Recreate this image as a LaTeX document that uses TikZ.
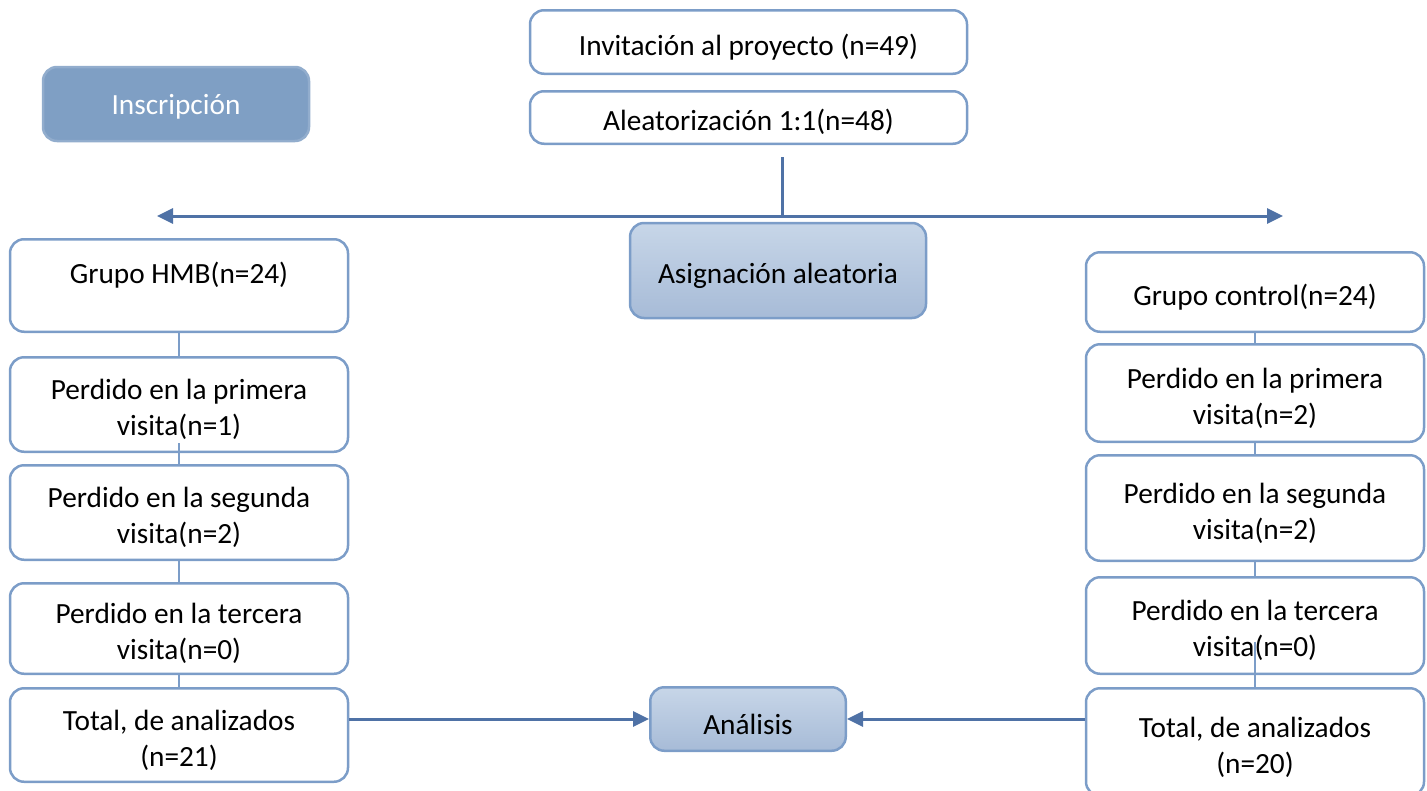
\documentclass[tikz,border=0pt]{standalone}
\usepackage{fontspec}
\setmainfont{Carlito}
\usepackage{tikz}
\usetikzlibrary{positioning}
\usetikzlibrary{arrows.meta}

\definecolor{boxline}{RGB}{124,157,200}
\definecolor{flowblue}{RGB}{79,114,166}
\definecolor{headfill}{RGB}{127,159,196}
\definecolor{softtop}{RGB}{199,214,232}
\definecolor{softbot}{RGB}{167,187,215}

\newcommand{\firstline}{\rule{0pt}{31pt}}

\tikzset{
  plainbox/.style={draw=boxline, line width=2.5pt, rounded corners=14pt, fill=white,
    align=center, inner sep=0pt, font=\fontsize{29.3pt}{36pt}\selectfont,
    execute at begin node=\firstline},
  headbox/.style={plainbox, draw=headfill!85!white, fill=headfill, text=white},
  softbox/.style={plainbox, draw=boxline, top color=softtop, bottom color=softbot},
  flowarrow/.style={draw=flowblue, line width=3pt, -{Triangle[length=16pt,width=15pt]}},
  flowline/.style={draw=flowblue, line width=3pt},
  thinlink/.style={draw=boxline, line width=1.2pt}
}

\begin{document}
\begin{tikzpicture}[x=1pt, y=-1pt]
\useasboundingbox (0,0) rectangle (1427,790);

% top of the chart
\node[headbox, minimum width=266pt, minimum height=74pt, text depth=11pt] (enrol) at (176,104) {Inscripción};
\node[plainbox, minimum width=437pt, minimum height=63.5pt] (invite) at (748.5,42) {Invitación al proyecto (n=49)};
\node[plainbox, minimum width=437pt, minimum height=52.5pt, below=15pt of invite] (alloc) {Aleatorización 1:1(n=48)};
\node[softbox, minimum width=296pt, minimum height=95pt] (assign) at (778,270.5) {Asignación aleatoria};

\coordinate (forktop) at (782,157);
\coordinate (fork) at (782,216);
\coordinate (leftend) at (157,216);
\coordinate (rightend) at (1283,216);

% HMB group
\node[plainbox, minimum width=338pt, minimum height=92.5pt, text depth=36pt] (hmb) at (179,285.5) {Grupo HMB(n=24)};
\node[plainbox, minimum width=338pt, minimum height=94.5pt, below=23pt of hmb] (lostAhmb) {\firstline Perdido en la primera\\visita(n=1)};
\node[plainbox, minimum width=338pt, minimum height=94.5pt, below=11pt of lostAhmb] (lostBhmb) {\firstline Perdido en la segunda\\visita(n=2)};
\node[plainbox, minimum width=338pt, minimum height=90.5pt, below=21pt of lostBhmb] (lostChmb) {\firstline Perdido en la tercera\\visita(n=0)};
\node[plainbox, minimum width=338pt, minimum height=93.5pt, below=12pt of lostChmb] (totalhmb) {\firstline Total, de analizados\\(n=21)};

% control group
\node[plainbox, minimum width=338pt, minimum height=79.5pt] (ctl) at (1255,292) {Grupo control(n=24)};
\node[plainbox, minimum width=338pt, minimum height=97.5pt, below=10pt of ctl] (lostActl) {\firstline Perdido en la primera\\visita(n=2)};
\node[plainbox, minimum width=338pt, minimum height=105.5pt, below=11pt of lostActl] (lostBctl) {\firstline Perdido en la segunda\\visita(n=2)};
\node[plainbox, minimum width=338pt, minimum height=96.5pt, below=14pt of lostBctl] (lostCctl) {\firstline Perdido en la tercera\\visita(n=0)};
\node[plainbox, minimum width=338pt, minimum height=107.5pt, below=12pt of lostCctl] (totalctl) {\firstline Total, de analizados\\(n=20)};

\node[softbox, minimum width=195.5pt, minimum height=63.5pt] (analysis) at (748,719) {Análisis};

% connectors
\draw[flowline] (forktop) -- (fork);
\draw[flowarrow] (fork) -- (leftend);
\draw[flowarrow] (fork) -- (rightend);

\draw[thinlink] (hmb) -- (lostAhmb);
\draw[thinlink] ([yshift=10pt]lostAhmb.south) -- (lostBhmb.north);
\draw[thinlink] (lostBhmb) -- (lostChmb);
\draw[thinlink] (lostChmb) -- (totalhmb);

\draw[thinlink] (ctl) -- (lostActl);
\draw[thinlink] (lostActl) -- (lostBctl);
\draw[thinlink] (lostBctl) -- (lostCctl);
\draw[thinlink] ([yshift=-16pt]lostCctl.center) -- (totalctl.north);

\draw[flowarrow] (totalhmb.east |- analysis) -- (analysis.west);
\draw[flowarrow] (totalctl.west |- analysis) -- (analysis.east);

\end{tikzpicture}
\end{document}
